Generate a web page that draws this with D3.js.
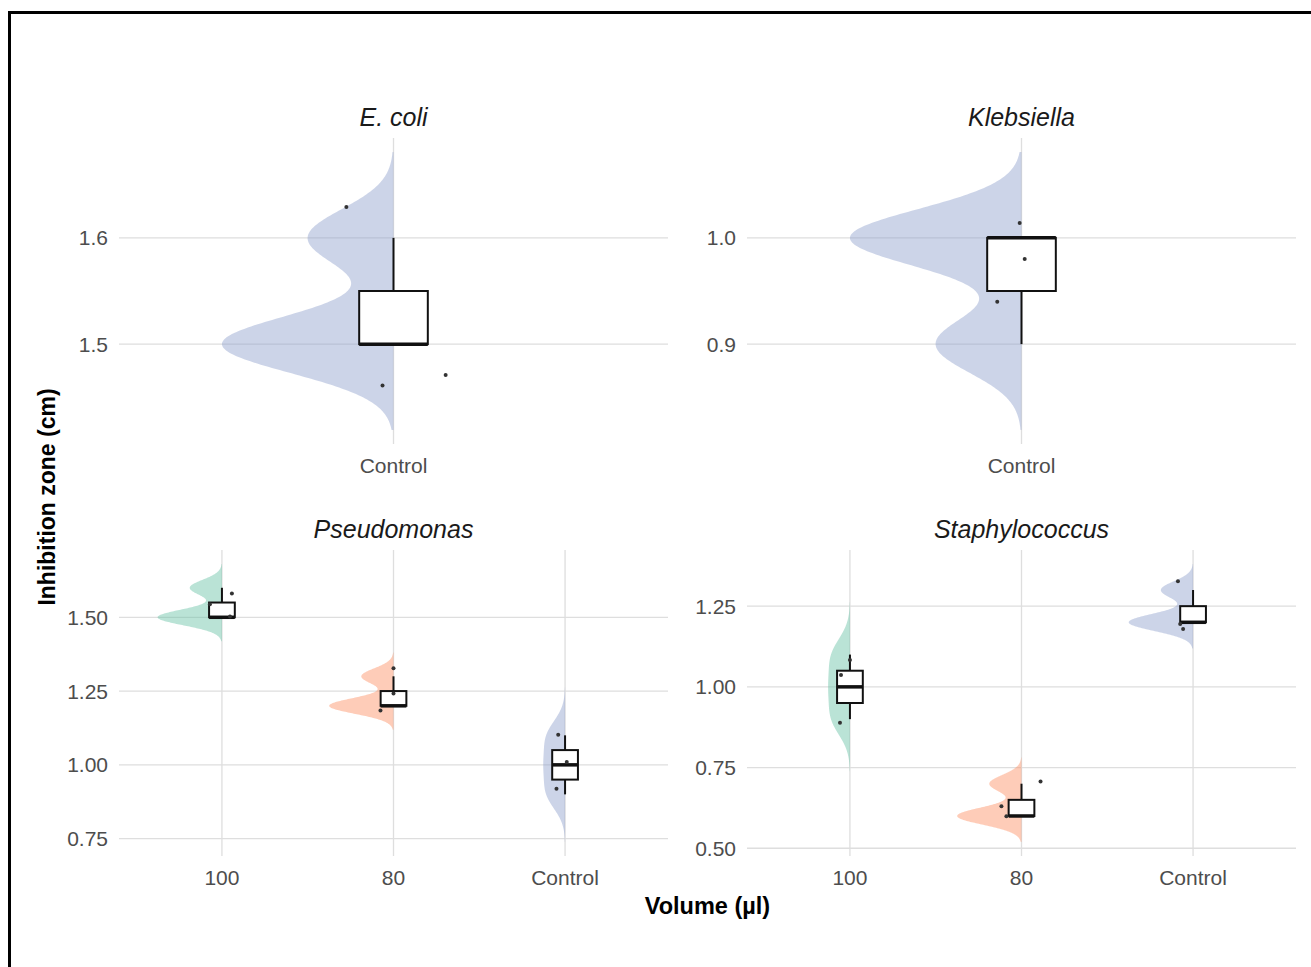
<!DOCTYPE html>
<html>
<head>
<meta charset="utf-8">
<script src="https://cdn.jsdelivr.net/npm/d3@7"></script>
<style>
  html, body { margin: 0; padding: 0; background: #ffffff; }
  svg { display: block; }
  text { font-family: "Liberation Sans", Arial, sans-serif; }
</style>
</head>
<body>
<svg id="chart" width="1311" height="967"></svg>
<script>
// ---- Data: inhibition zone (cm) replicates per bacterium and volume ----
const bacteria = ["E. coli", "Klebsiella", "Pseudomonas", "Staphylococcus"];
const volumeLevels = ["100", "80", "Control"];

const ecoliControl = [1.5, 1.5, 1.6];
const klebsiellaControl = [0.9, 1.0, 1.0];
const pseudomonas100 = [1.5, 1.5, 1.6];
const pseudomonas80 = [1.2, 1.2, 1.3];
const pseudomonasControl = [0.9, 1.0, 1.1];
const staphylococcus100 = [0.9, 1.0, 1.1];
const staphylococcus80 = [0.6, 0.6, 0.7];
const staphylococcusControl = [1.2, 1.2, 1.3];

// Jittered point positions as plotted (value, horizontal offset in category units)
const ecoliControlJitterY = [1.629, 1.461, 1.471];
const ecoliControlJitterX = [-0.103, -0.024, 0.114];
const klebsiellaControlJitterY = [1.014, 0.980, 0.940];
const klebsiellaControlJitterX = [-0.004, 0.007, -0.053];
const pseudomonas100JitterY = [1.581, 1.544, 1.503];
const pseudomonas100JitterX = [0.058, -0.070, 0.047];
const pseudomonas80JitterY = [1.327, 1.242, 1.184];
const pseudomonas80JitterX = [0.000, 0.000, -0.076];
const pseudomonasControlJitterY = [1.102, 0.919, 1.010];
const pseudomonasControlJitterX = [-0.040, -0.050, 0.010];
const staphylococcus100JitterY = [0.889, 1.037, 1.083];
const staphylococcus100JitterX = [-0.058, -0.052, 0.000];
const staphylococcus80JitterY = [0.707, 0.630, 0.599];
const staphylococcus80JitterX = [0.111, -0.117, -0.088];
const staphylococcusControlJitterY = [1.327, 1.179, 1.195];
const staphylococcusControlJitterX = [-0.088, -0.058, -0.075];

// Y tick values and labels per panel
const ecoliTicks = [1.5, 1.6];
const ecoliTickLabels = ["1.5", "1.6"];
const klebsiellaTicks = [0.9, 1.0];
const klebsiellaTickLabels = ["0.9", "1.0"];
const pseudomonasTicks = [0.75, 1.0, 1.25, 1.5];
const pseudomonasTickLabels = ["0.75", "1.00", "1.25", "1.50"];
const staphylococcusTicks = [0.5, 0.75, 1.0, 1.25];
const staphylococcusTickLabels = ["0.50", "0.75", "1.00", "1.25"];

// Set2-style fills per volume
const volumeColors = { "100": "#66C2A5", "80": "#FC8D62", "Control": "#8DA0CB" };

// ---- Panels built from the arrays above ----
const panels = [
  { title: bacteria[0], ticks: ecoliTicks, tickLabels: ecoliTickLabels,
    groups: [{ vol: "Control", values: ecoliControl, jy: ecoliControlJitterY, jx: ecoliControlJitterX }] },
  { title: bacteria[1], ticks: klebsiellaTicks, tickLabels: klebsiellaTickLabels,
    groups: [{ vol: "Control", values: klebsiellaControl, jy: klebsiellaControlJitterY, jx: klebsiellaControlJitterX }] },
  { title: bacteria[2], ticks: pseudomonasTicks, tickLabels: pseudomonasTickLabels,
    groups: [
      { vol: volumeLevels[0], values: pseudomonas100, jy: pseudomonas100JitterY, jx: pseudomonas100JitterX },
      { vol: volumeLevels[1], values: pseudomonas80, jy: pseudomonas80JitterY, jx: pseudomonas80JitterX },
      { vol: volumeLevels[2], values: pseudomonasControl, jy: pseudomonasControlJitterY, jx: pseudomonasControlJitterX }] },
  { title: bacteria[3], ticks: staphylococcusTicks, tickLabels: staphylococcusTickLabels,
    groups: [
      { vol: volumeLevels[0], values: staphylococcus100, jy: staphylococcus100JitterY, jx: staphylococcus100JitterX },
      { vol: volumeLevels[1], values: staphylococcus80, jy: staphylococcus80JitterY, jx: staphylococcus80JitterX },
      { vol: volumeLevels[2], values: staphylococcusControl, jy: staphylococcusControlJitterY, jx: staphylococcusControlJitterX }] }
];

// ---- Statistics: bandwidth (nrd0), Gaussian density, box summary ----
function bwNrd0(x) {
  const s = x.slice().sort(d3.ascending);
  const sd = d3.deviation(s);
  const iqr = d3.quantile(s, 0.75) - d3.quantile(s, 0.25);
  let lo = Math.min(sd, iqr / 1.34);
  if (!(lo > 0)) lo = sd || Math.abs(s[0]) || 1;
  return 0.9 * lo * Math.pow(s.length, -0.2);
}
function densityCurve(x, bw, cut = 3, n = 256) {
  const lo = d3.min(x) - cut * bw, hi = d3.max(x) + cut * bw;
  const k = 1 / (bw * Math.sqrt(2 * Math.PI) * x.length);
  return d3.range(n).map(i => {
    const v = lo + (hi - lo) * i / (n - 1);
    const d = k * d3.sum(x, xi => Math.exp(-0.5 * ((v - xi) / bw) ** 2));
    return { v, d };
  });
}
function boxStats(x) {
  const s = x.slice().sort(d3.ascending);
  const q1 = d3.quantile(s, 0.25), med = d3.quantile(s, 0.5), q3 = d3.quantile(s, 0.75);
  const iqr = q3 - q1;
  const lowW = d3.min(s.filter(v => v >= q1 - 1.5 * iqr));
  const highW = d3.max(s.filter(v => v <= q3 + 1.5 * iqr));
  return { q1, med, q3, lowW, highW };
}

panels.forEach(p => {
  p.groups.forEach(g => {
    g.bw = bwNrd0(g.values);
    g.dens = densityCurve(g.values, g.bw);
    g.box = boxStats(g.values);
  });
  const lo = d3.min(p.groups, g => d3.min(g.dens, d => d.v));
  const hi = d3.max(p.groups, g => d3.max(g.dens, d => d.v));
  const pad = (hi - lo) * 0.05;
  p.yDomain = [lo - pad, hi + pad];
});
const maxDensity = d3.max(panels, p => d3.max(p.groups, g => d3.max(g.dens, d => d.d)));

// ---- Layout ----
const svg = d3.select("#chart");
const colX = [[119, 668], [747, 1296]];
const rowY = [[138, 444], [550, 856]];
const halfViolin = 0.375;   // max violin width, in category steps
const boxHalf = 0.075;      // half box width, in category steps

// Frame lines (top and left)
svg.append("path")
  .attr("d", "M9.5,967 V12.5 H1311")
  .attr("fill", "none").attr("stroke", "#000").attr("stroke-width", 3);

panels.forEach((p, i) => {
  const [x0, x1] = colX[i % 2];
  const [y0, y1] = rowY[Math.floor(i / 2)];
  const cats = p.groups.map(g => g.vol);
  const x = d3.scalePoint().domain(cats).range([x0, x1]).padding(0.6);
  const step = x.step();
  const y = d3.scaleLinear().domain(p.yDomain).range([y1, y0]);
  const g = svg.append("g");

  // Grid
  g.selectAll("line.hgrid").data(p.ticks).join("line")
    .attr("x1", x0).attr("x2", x1)
    .attr("y1", d => y(d)).attr("y2", d => y(d))
    .attr("stroke", "#dedede").attr("stroke-width", 1.3);
  g.selectAll("line.vgrid").data(cats).join("line")
    .attr("x1", d => x(d)).attr("x2", d => x(d))
    .attr("y1", y0).attr("y2", y1)
    .attr("stroke", "#dedede").attr("stroke-width", 1.3);

  // Y tick labels
  g.selectAll("text.ytick").data(p.ticks).join("text")
    .attr("x", x0 - 11).attr("y", d => y(d)).attr("dy", "0.36em")
    .attr("text-anchor", "end").attr("font-size", 21).attr("fill", "#4d4d4d")
    .text((d, k) => p.tickLabels[k]);

  // X tick labels
  g.selectAll("text.xtick").data(cats).join("text")
    .attr("x", d => x(d)).attr("y", y1 + 21).attr("dy", "0.36em")
    .attr("text-anchor", "middle").attr("font-size", 21).attr("fill", "#4d4d4d")
    .text(d => d);

  // Strip title
  g.append("text")
    .attr("x", (x0 + x1) / 2).attr("y", y0 - 21).attr("dy", "0.36em")
    .attr("text-anchor", "middle").attr("font-size", 25).attr("font-style", "italic")
    .attr("fill", "#1a1a1a").text(p.title);

  p.groups.forEach(grp => {
    const cx = x(grp.vol);
    // Half violin (left side)
    const area = d3.area()
      .y(d => y(d.v))
      .x0(cx)
      .x1(d => cx - d.d / maxDensity * halfViolin * step);
    g.append("path").datum(grp.dens)
      .attr("d", area)
      .attr("fill", volumeColors[grp.vol]).attr("fill-opacity", 0.45);

    // Box plot
    const b = grp.box;
    const bw = boxHalf * step;
    g.append("line")
      .attr("x1", cx).attr("x2", cx).attr("y1", y(b.q3)).attr("y2", y(b.highW))
      .attr("stroke", "#111").attr("stroke-width", 2);
    g.append("line")
      .attr("x1", cx).attr("x2", cx).attr("y1", y(b.q1)).attr("y2", y(b.lowW))
      .attr("stroke", "#111").attr("stroke-width", 2);
    g.append("rect")
      .attr("x", cx - bw).attr("width", 2 * bw)
      .attr("y", y(b.q3)).attr("height", Math.max(0, y(b.q1) - y(b.q3)))
      .attr("fill", "#ffffff").attr("stroke", "#111").attr("stroke-width", 2);
    g.append("line")
      .attr("x1", cx - bw).attr("x2", cx + bw).attr("y1", y(b.med)).attr("y2", y(b.med))
      .attr("stroke", "#111").attr("stroke-width", 3.5);

    // Jittered observations
    g.selectAll(null).data(grp.jy).join("circle")
      .attr("cx", (d, k) => cx + grp.jx[k] * step)
      .attr("cy", d => y(d))
      .attr("r", 2).attr("fill", "#333");
  });
});

// Axis titles
svg.append("text")
  .attr("x", (colX[0][0] + colX[1][1]) / 2).attr("y", 906).attr("dy", "0.36em")
  .attr("text-anchor", "middle").attr("font-size", 23.5).attr("font-weight", "bold")
  .attr("fill", "#000").text("Volume (µl)");
svg.append("text")
  .attr("transform", `translate(47, ${(rowY[0][0] + rowY[1][1]) / 2}) rotate(-90)`)
  .attr("dy", "0.36em")
  .attr("text-anchor", "middle").attr("font-size", 23).attr("font-weight", "bold")
  .attr("fill", "#000").text("Inhibition zone (cm)");
</script>
</body>
</html>
